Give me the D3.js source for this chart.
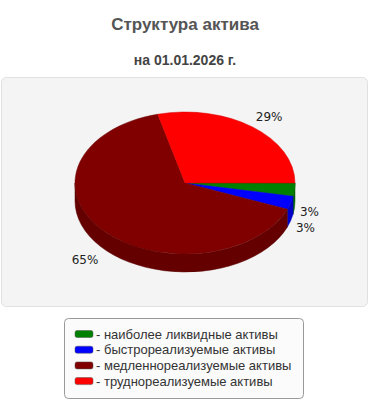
<html>
<head>
<meta charset="utf-8">
<script src="https://d3js.org/d3.v7.min.js"></script>
<style>
  body { margin: 0; background: #fff; }
  svg { display: block; }
</style>
</head>
<body>
<div id="chart"></div>
<script>
// data
var categories = [
  "наиболее ликвидные активы",
  "быстрореализуемые активы",
  "медленнореализуемые активы",
  "труднореализуемые активы"
];
var shares = [3, 3, 65, 29];
var colors = ["#008000", "#0000ff", "#800000", "#ff0000"];

var W = 370, H = 400;
var svg = d3.select("#chart").append("svg")
  .attr("width", W).attr("height", H);

// titles
svg.append("text")
  .attr("x", W / 2).attr("y", 30)
  .attr("text-anchor", "middle")
  .style("font", "bold 17px 'Liberation Sans', Arial, sans-serif")
  .style("fill", "#555")
  .text("Структура актива");
svg.append("text")
  .attr("x", W / 2).attr("y", 65)
  .attr("text-anchor", "middle")
  .style("font", "bold 14px 'Liberation Sans', Arial, sans-serif")
  .style("fill", "#444")
  .text("на 01.01.2026 г.");

// plot panel
svg.append("rect")
  .attr("x", 1.5).attr("y", 77.5).attr("width", 366).attr("height", 229)
  .attr("rx", 5)
  .style("fill", "#f4f4f4").style("stroke", "#e0e0e0");

// 3d pie
var cx = 185, cy = 183, rx = 110, ry = 71, depth = 18;
var color = d3.scaleOrdinal().domain(categories).range(colors);

var pie = d3.pie().sort(null)
  .startAngle(Math.PI / 2).endAngle(Math.PI / 2 + 2 * Math.PI)
  .value(function(d) { return d.v; });

var arcs = pie(categories.map(function(c, i) { return {name: c, v: shares[i]}; }));

function pt(a, r1, r2, dy) {
  return [cx + r1 * Math.sin(a), cy - r2 * Math.cos(a) + (dy || 0)];
}

var g = svg.append("g");

// side walls (front half only)
arcs.forEach(function(d) {
  var b0 = Math.max(d.startAngle, Math.PI / 2);
  var b1 = Math.min(d.endAngle, 3 * Math.PI / 2);
  if (b1 <= b0) return;
  var p0 = pt(b0, rx, ry), p1 = pt(b1, rx, ry);
  var path = "M" + p0 + "A" + rx + "," + ry + " 0 0 1 " + p1 +
    "L" + [p1[0], p1[1] + depth] +
    "A" + rx + "," + ry + " 0 0 0 " + [p0[0], p0[1] + depth] + "Z";
  var c = d3.color(color(d.data.name)).darker(0.7);
  g.append("path").attr("d", path)
    .style("fill", c).style("stroke", c.darker(0.3)).style("stroke-width", 0.5);
});

// top faces
arcs.forEach(function(d) {
  var p0 = pt(d.startAngle, rx, ry), p1 = pt(d.endAngle, rx, ry);
  var large = d.endAngle - d.startAngle > Math.PI ? 1 : 0;
  var path = "M" + [cx, cy] + "L" + p0 +
    "A" + rx + "," + ry + " 0 " + large + " 1 " + p1 + "Z";
  var c = color(d.data.name);
  g.append("path").attr("d", path)
    .style("fill", c).style("stroke", d3.color(c).darker(0.5)).style("stroke-width", 0.5);
});

// labels
arcs.forEach(function(d) {
  var a = (d.startAngle + d.endAngle) / 2;
  var front = -Math.cos(a) > 0;
  var x = cx + rx * 1.05 * Math.sin(a);
  var y = cy - 84 * Math.cos(a) + (front ? depth + 3 : 0);
  g.append("text")
    .attr("x", x).attr("y", y).attr("dy", "0.35em")
    .attr("text-anchor", Math.sin(a) >= 0 ? "start" : "end")
    .style("font", "12px 'DejaVu Sans', Verdana, sans-serif")
    .style("fill", "#222")
    .text(d.data.v + "%");
});

// legend
var lg = svg.append("g").attr("transform", "translate(64,318)");
lg.append("rect")
  .attr("x", 0.5).attr("y", 0.5).attr("width", 239).attr("height", 80)
  .attr("rx", 4)
  .style("fill", "#fbfbfb").style("stroke", "#999");
var item = lg.selectAll("g.item").data(categories).enter().append("g")
  .attr("transform", function(d, i) { return "translate(11," + (16 + i * 15.7) + ")"; });
item.append("rect")
  .attr("x", 0).attr("y", -3.5).attr("width", 18).attr("height", 7).attr("rx", 2)
  .style("fill", function(d) { return color(d); })
  .style("stroke", "#555").style("stroke-width", 0.5);
item.append("text")
  .attr("x", 21).attr("y", 0).attr("dy", "0.35em")
  .style("font", "13px 'Liberation Sans', Arial, sans-serif")
  .style("fill", "#333")
  .text(function(d) { return "- " + d; });
</script>
</body>
</html>
